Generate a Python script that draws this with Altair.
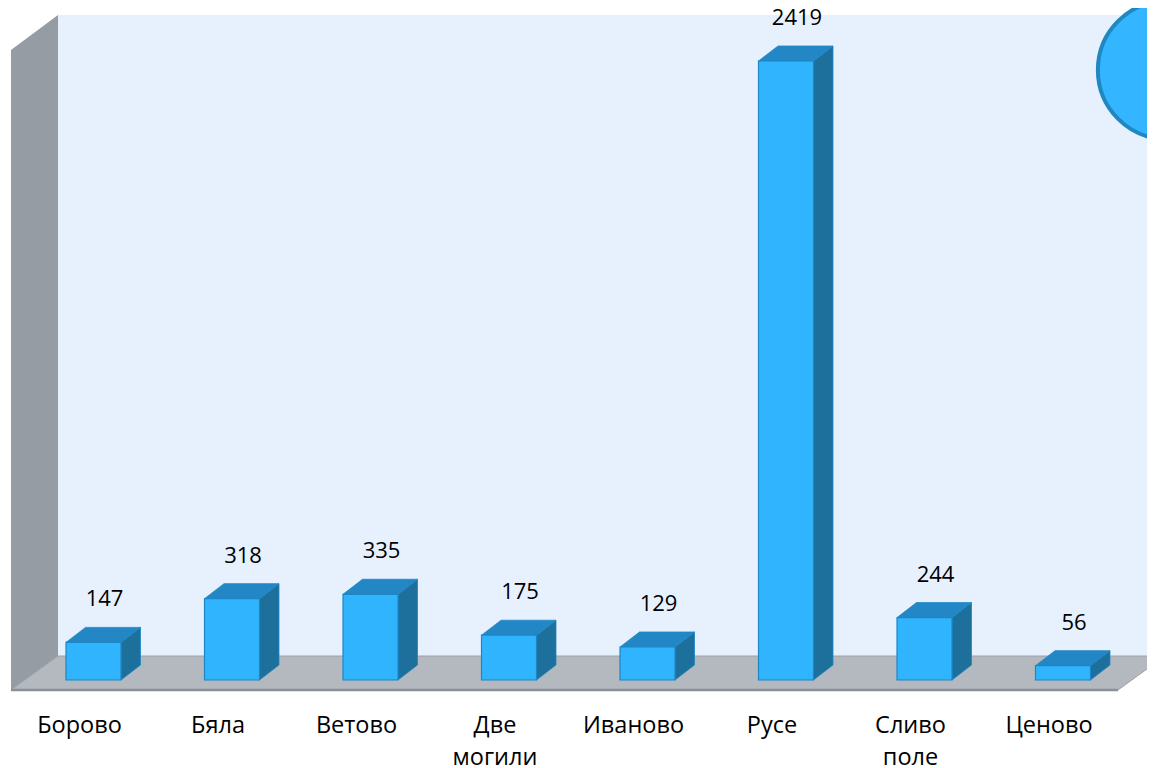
import math
import altair as alt
import pandas as pd

# ---- data ----
categories = ["Борово", "Бяла", "Ветово", "Две\nмогили", "Иваново", "Русе", "Сливо\nполе", "Ценово"]
values = [147, 318, 335, 175, 129, 2419, 244, 56]

# ---- layout (pixel geometry of the 3D scene) ----
W, H = 1139, 760
OFF = 8
X0, PXC = 93.5, 138.5          # image x of first bar centre, px per category
Y0, PXV = 680.0, 619 / 2419    # image y of zero, px per value unit


def ux(X):
    return (X - X0) / PXC


def vy(Y):
    return (Y0 - Y) / PXV


xs = alt.Scale(domain=[ux(OFF), ux(OFF + W)], nice=False, zero=False)
ys = alt.Scale(domain=[vy(OFF + H), vy(OFF)], nice=False, zero=False)

HW = 27.5 / PXC
DX = 19.5 / PXC
DY = 15 / PXV

FRONT = "#31B4FE"
TOP = "#2387C5"
SIDE = "#1D6F9C"
EDGE = "#1E86C4"

front = pd.DataFrame({
    "cat": categories,
    "x": [i - HW for i in range(len(values))],
    "x2": [i + HW for i in range(len(values))],
    "y": [0] * len(values),
    "y2": values,
})

top_rows, side_rows = [], []
for i, (c, v) in enumerate(zip(categories, values)):
    top_rows.append({"cat": c, "y": v, "x": i - HW, "x2": i + HW})
    top_rows.append({"cat": c, "y": v + DY, "x": i - HW + DX, "x2": i + HW + DX})
    side_rows.append({"cat": c, "x": i + HW, "y": v, "y2": 0})
    side_rows.append({"cat": c, "x": i + HW + DX, "y": v + DY, "y2": DY})
top = pd.DataFrame(top_rows)
side = pd.DataFrame(side_rows)

labels = pd.DataFrame({
    "cat": categories,
    "v": values,
    "lx": [i + 11 / PXC for i in range(len(values))],
    "cx": [i - 14 / PXC for i in range(len(values))],
    "cy": [vy(733)] * len(values),
})

X = lambda f: alt.X(f, type="quantitative", scale=xs, axis=None)
Y = lambda f: alt.Y(f, type="quantitative", scale=ys, axis=None)

back_df = pd.DataFrame([{"x": ux(58), "x2": ux(1165), "y": vy(656), "y2": vy(15)}])
back = alt.Chart(back_df).mark_rect(color="#E7F1FE").encode(
    x=X("x"), x2="x2", y=Y("y"), y2="y2")

lw_df = pd.DataFrame([
    {"x": ux(11), "y": vy(50), "y2": vy(690)},
    {"x": ux(58), "y": vy(15), "y2": vy(656)},
])
left_wall = alt.Chart(lw_df).mark_area(color="#959CA3").encode(
    x=X("x"), y=Y("y"), y2="y2")

fl_df = pd.DataFrame([
    {"y": vy(690), "x": ux(11), "x2": ux(1118)},
    {"y": vy(656), "x": ux(58), "x2": ux(1165)},
])
floor = alt.Chart(fl_df).mark_area(orient="horizontal", color="#B3B9BF",
                                   stroke="#9CA2A8", strokeWidth=1).encode(
    y=Y("y"), x=X("x"), x2="x2")

edge_df = pd.DataFrame([{"x": ux(11), "x2": ux(1118), "y": vy(690)}])
floor_edge = alt.Chart(edge_df).mark_rule(color="#8A9096", strokeWidth=2.5).encode(
    x=X("x"), x2="x2", y=Y("y"))

sides = alt.Chart(side).mark_area(color=SIDE, stroke=EDGE, strokeWidth=0.8).encode(
    x=X("x"), y=Y("y"), y2="y2", detail="cat:N")

tops = alt.Chart(top).mark_area(orient="horizontal", color=TOP, stroke=EDGE,
                                strokeWidth=0.8).encode(
    y=Y("y"), x=X("x"), x2="x2", detail="cat:N")

fronts = alt.Chart(front).mark_rect(color=FRONT, stroke=EDGE, strokeWidth=1.2).encode(
    x=X("x"), x2="x2", y=Y("y"), y2="y2")

val_text = alt.Chart(labels).mark_text(
    font="Open Sans", fontSize=22, color="#000000", dy=-36,
    baseline="alphabetic", align="center").encode(
    x=X("lx"), y=Y("v"), text="v:Q")

cat_text = alt.Chart(labels).mark_text(
    font="Open Sans", fontSize=23.5, color="#000000", lineBreak="\n",
    lineHeight=32, baseline="alphabetic", align="center").encode(
    x=X("cx"), y=Y("cy"), text="cat:N")

circ_df = pd.DataFrame([{"x": ux(1167), "y": vy(70)}])
circle = alt.Chart(circ_df).mark_point(
    shape="circle", filled=True, size=math.pi * 78 ** 2, fill="#33B5FF",
    stroke="#1F88C0", strokeWidth=4, opacity=1).encode(
    x=X("x"), y=Y("y"))

chart = alt.layer(back, left_wall, floor, floor_edge, sides, tops, fronts,
                  val_text, cat_text, circle).properties(
    width=W, height=H, padding=0, background="#FFFFFF",
    autosize=alt.AutoSizeParams(type="none"),
).configure_view(stroke=None)

chart.save("out.html", embed_options={"renderer": "svg", "actions": False})
